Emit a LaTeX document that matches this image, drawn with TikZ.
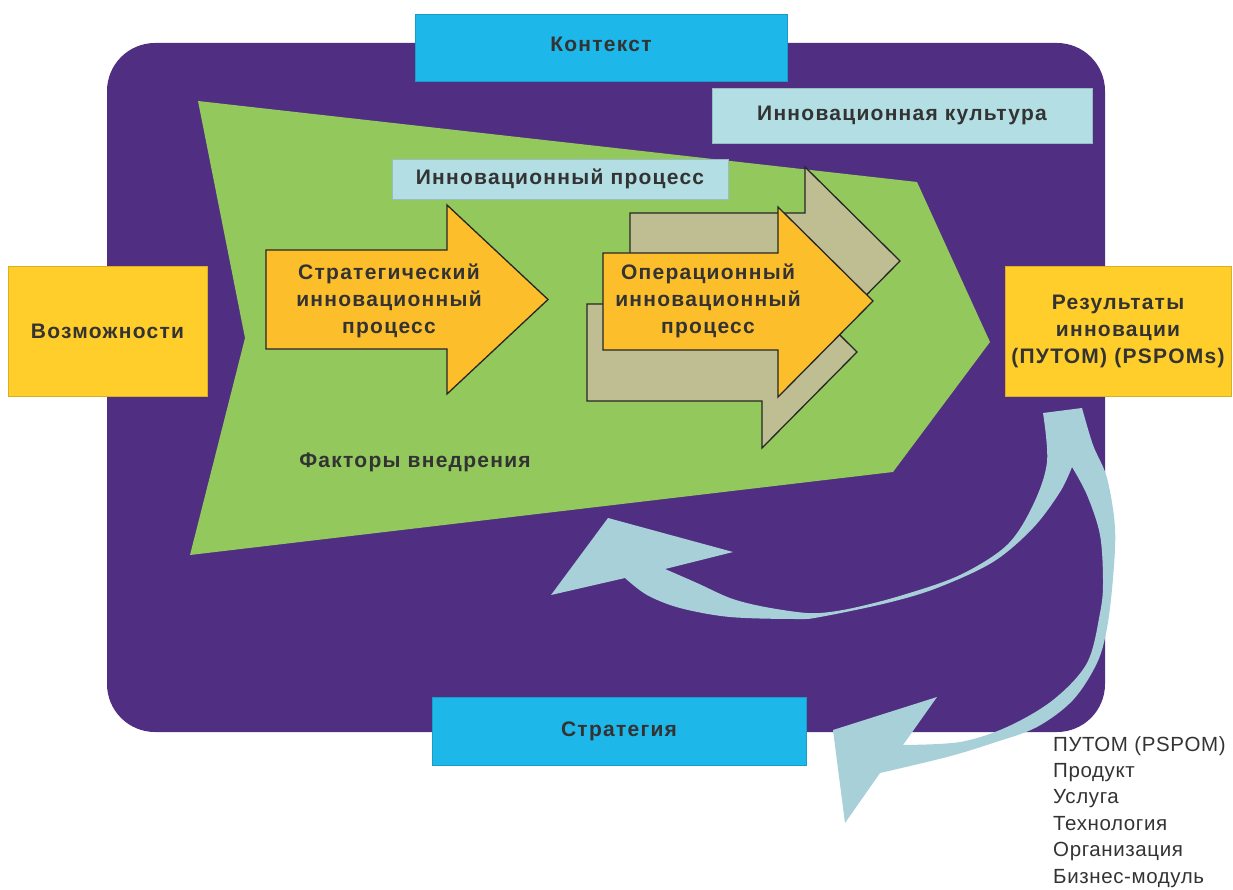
\documentclass[tikz,border=0pt]{standalone}
\usepackage{fontspec}
\setmainfont{Liberation Sans}
\newfontfamily\widebold[LetterSpace=6]{Liberation Sans}
\newfontfamily\widereg[LetterSpace=3]{Liberation Sans}
\definecolor{fonpurple}{RGB}{80,46,130}
\definecolor{zelen}{RGB}{146,200,92}
\definecolor{ctxblue}{RGB}{30,183,234}
\definecolor{paleblue}{RGB}{178,222,228}
\definecolor{boxyellow}{RGB}{255,206,42}
\definecolor{arrorange}{RGB}{253,190,44}
\definecolor{arrtan}{RGB}{191,190,146}
\definecolor{cyclblue}{RGB}{168,208,216}
\definecolor{txtgray}{RGB}{51,51,51}

\begin{document}
\begin{tikzpicture}[x=1pt,y=-1pt,
    box/.style={draw=#1!85!black, fill=#1, line width=0.6pt, inner sep=0pt,
      text=txtgray, align=center, font=\widebold\bfseries\fontsize{21}{27}\selectfont},
    lbl/.style={text=txtgray, align=center, font=\widebold\bfseries\fontsize{21}{27}\selectfont},
    blockarr/.style={draw=black!85, line width=1.3pt, line join=miter}]
      \useasboundingbox (0,0) rectangle (1233,890);
      % frame and green field
      \fill[fonpurple, rounded corners=48] (107,43) rectangle (1105,732);
      \fill[zelen] (198,101) -- (917,182) -- (990,342) -- (893,472)
        -- (190,555) -- (245,338) -- cycle;

      % boxes
      \node[box=ctxblue, minimum width=372, minimum height=67, text depth=7] (kontekst) at (601,47.5) {Контекст};
      \node[box=ctxblue, minimum width=374, minimum height=68] (strategiya) at (619,731) {Стратегия};
      \node[box=paleblue, minimum width=380, minimum height=55, text depth=4] (kultura) at (902,115.5) {Инновационная культура};
      \node[box=paleblue, minimum width=336, minimum height=40] (protsess) at (560,179) {Инновационный процесс};
      \node[box=boxyellow, minimum width=199, minimum height=130] (vozm) at (107.5,331) {Возможности};
      \node[box=boxyellow, minimum width=226, minimum height=130] (rezult) at (1118,331)
        {Результаты\\инновации\\(ПУТОМ) (PSPOMs)};

      % block arrows
      \draw[blockarr, fill=arrorange] (266,250) -- (447,250) -- (447,205) -- (548,299.5)
        -- (447,394) -- (447,349) -- (266,349) -- cycle;
      \foreach \dx/\dy in {27/-40,-16/51}
        \draw[blockarr, fill=arrtan, shift={(\dx,\dy)}] (603,253) -- (778,253) -- (778,207)
          -- (873,301) -- (778,397) -- (778,350) -- (603,350) -- cycle;
      \draw[blockarr, fill=arrorange] (603,253) -- (778,253) -- (778,207) -- (873,301)
        -- (778,397) -- (778,350) -- (603,350) -- cycle;
      \node[lbl] (strat) at (389,301) {Стратегический\\инновационный\\процесс};
      \node[lbl] (oper) at (708,301) {Операционный\\инновационный\\процесс};
      \node[lbl] (faktory) at (415,462) {Факторы внедрения};

      % cycle arrows
      \fill[cyclblue]
        plot[smooth, tension=0.55] coordinates {(1043,413) (1047,462) (1033,505) (1007,545)
          (960,575) (903,595) (853,608) (820,613) (797,612) (760,606) (730,598) (697,583) (665,569)}
        -- (733,552) -- (608,518) -- (551,595) -- (625,578)
        -- plot[smooth, tension=0.55] coordinates {(625,578) (647,595) (680,608) (730,617)
          (797,619) (820,617) (887,603) (937,588) (993,562) (1033,528) (1060,492) (1072,467)}
        -- plot[smooth, tension=0.55] coordinates {(1072,467) (1087,495) (1100,535) (1103,582)
          (1100,613) (1087,663) (1053,700) (1007,727) (960,742) (903,745)}
        -- (937,697) -- (833,730) -- (845,823) -- (880,773)
        -- plot[smooth, tension=0.55] coordinates {(880,773) (947,757) (993,743) (1037,727)
          (1073,700) (1097,663) (1107,628) (1113,578) (1115,528) (1107,478) (1093,445) (1082,408)}
        -- cycle;

      % list of outcomes
      \node[anchor=north west, align=left, text=txtgray, inner sep=0pt,
        font=\widereg\fontsize{20.5}{26.4}\selectfont] (spisok) at (1053,736)
        {ПУТОМ (PSPOM)\\Продукт\\Услуга\\Технология\\Организация\\Бизнес-модуль};
    \end{tikzpicture}
\end{document}
